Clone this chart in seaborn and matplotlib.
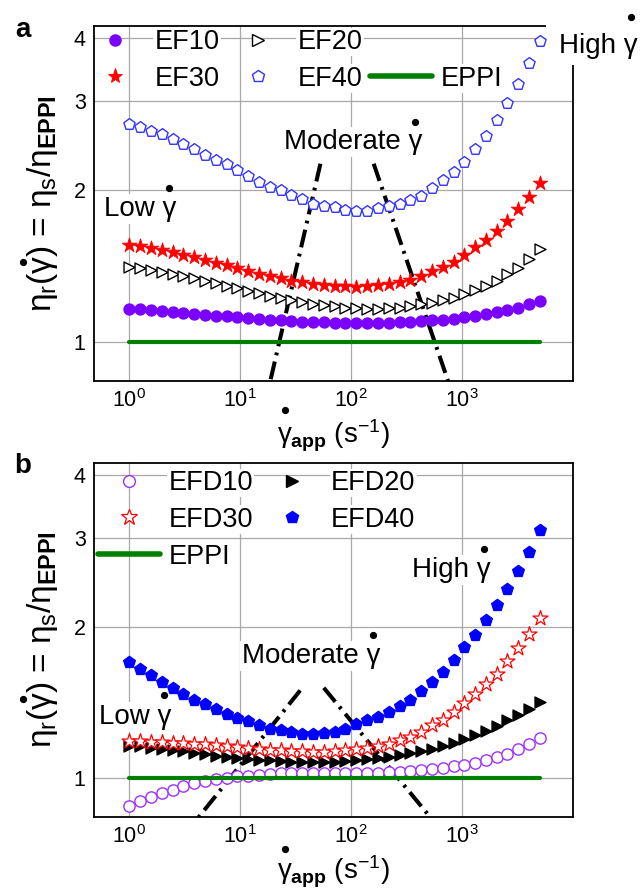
import numpy as np
import matplotlib
matplotlib.use("Agg")
import matplotlib.pyplot as plt
import seaborn as sns
from matplotlib.lines import Line2D
from matplotlib.patches import Rectangle
from matplotlib.ticker import (FixedLocator, NullFormatter, LogLocator,
                               LogFormatterSciNotation, FuncFormatter)

sns.set_theme(style="white")
plt.rcParams["font.family"] = ["Liberation Sans", "DejaVu Sans"]
plt.rcParams["mathtext.fontset"] = "custom"
plt.rcParams["mathtext.rm"] = "Liberation Sans"
plt.rcParams["mathtext.it"] = "Liberation Sans"
plt.rcParams["mathtext.bf"] = "Liberation Sans:bold"
for key in ("text.color", "axes.labelcolor", "xtick.color", "ytick.color",
            "axes.edgecolor"):
    plt.rcParams[key] = "black"

# apparent shear rate (1/s)
shear_rate = [1.00, 1.25, 1.57, 1.96, 2.45, 3.07, 3.84, 4.81, 6.02, 7.53,
              9.42, 11.8, 14.8, 18.5, 23.1, 28.9, 36.2, 45.3, 56.7, 70.9,
              88.8, 111, 139, 174, 218, 273, 341, 427, 534, 668,
              837, 1047, 1310, 1639, 2052, 2567, 3213, 4021, 5012]

# relative viscosity, panel a
ef10 = [1.165, 1.161, 1.158, 1.152, 1.149, 1.144, 1.138, 1.133, 1.128, 1.125,
        1.119, 1.116, 1.111, 1.108, 1.104, 1.101, 1.098, 1.096, 1.094, 1.093,
        1.091, 1.091, 1.091, 1.091, 1.093, 1.094, 1.098, 1.101, 1.104, 1.108,
        1.113, 1.119, 1.128, 1.137, 1.147, 1.158, 1.170, 1.188, 1.206]
ef20 = [1.409, 1.399, 1.388, 1.378, 1.363, 1.351, 1.339, 1.322, 1.308, 1.292,
        1.278, 1.263, 1.248, 1.235, 1.221, 1.210, 1.199, 1.192, 1.183, 1.177,
        1.170, 1.167, 1.165, 1.165, 1.167, 1.170, 1.177, 1.188, 1.197, 1.210,
        1.225, 1.244, 1.267, 1.292, 1.322, 1.363, 1.405, 1.460, 1.528]
ef30 = [1.559, 1.547, 1.535, 1.524, 1.505, 1.487, 1.471, 1.455, 1.436, 1.420,
        1.403, 1.384, 1.367, 1.353, 1.340, 1.324, 1.316, 1.306, 1.298, 1.292,
        1.290, 1.288, 1.290, 1.296, 1.302, 1.316, 1.330, 1.353, 1.384, 1.409,
        1.442, 1.487, 1.540, 1.595, 1.662, 1.740, 1.836, 1.936, 2.064]
ef40 = [2.71, 2.67, 2.62, 2.58, 2.52, 2.47, 2.41, 2.35, 2.30, 2.25,
        2.19, 2.13, 2.08, 2.03, 2.00, 1.96, 1.92, 1.88, 1.86, 1.85,
        1.83, 1.82, 1.82, 1.84, 1.86, 1.88, 1.91, 1.95, 2.02, 2.09,
        2.17, 2.27, 2.41, 2.56, 2.75, 2.97, 3.24, 3.57, 3.95]

# relative viscosity, panel b
efd10 = [0.880, 0.899, 0.917, 0.935, 0.949, 0.964, 0.976, 0.986, 0.995, 1.002,
         1.008, 1.012, 1.015, 1.019, 1.022, 1.023, 1.025, 1.025, 1.025, 1.026,
         1.026, 1.026, 1.026, 1.026, 1.028, 1.029, 1.033, 1.037, 1.042, 1.047,
         1.055, 1.063, 1.073, 1.084, 1.101, 1.118, 1.140, 1.170, 1.201]
efd20 = [1.161, 1.156, 1.149, 1.144, 1.137, 1.130, 1.123, 1.116, 1.109, 1.103,
         1.098, 1.093, 1.087, 1.084, 1.081, 1.079, 1.078, 1.076, 1.076, 1.078,
         1.081, 1.084, 1.089, 1.096, 1.103, 1.111, 1.121, 1.131, 1.144, 1.156,
         1.174, 1.194, 1.216, 1.242, 1.269, 1.302, 1.336, 1.374, 1.416]
efd30 = [1.185, 1.183, 1.181, 1.179, 1.177, 1.174, 1.170, 1.167, 1.163, 1.160,
         1.154, 1.149, 1.144, 1.138, 1.135, 1.131, 1.130, 1.128, 1.128, 1.130,
         1.135, 1.140, 1.147, 1.158, 1.170, 1.188, 1.206, 1.235, 1.273, 1.306,
         1.353, 1.409, 1.471, 1.535, 1.612, 1.709, 1.813, 1.936, 2.080]
efd40 = [1.701, 1.650, 1.600, 1.552, 1.510, 1.471, 1.433, 1.401, 1.369, 1.342,
         1.318, 1.296, 1.273, 1.254, 1.244, 1.233, 1.225, 1.225, 1.229, 1.235,
         1.252, 1.282, 1.302, 1.322, 1.353, 1.390, 1.433, 1.487, 1.552, 1.624,
         1.714, 1.822, 1.921, 2.058, 2.204, 2.379, 2.576, 2.814, 3.108]

# neat matrix reference (normalised to itself)
eppi = [1.0] * len(shear_rate)

# regime guide lines: (rate, ratio) end points
guide_a_left_x, guide_a_left_y = [52.8, 18.4], [2.256, 0.826]
guide_a_right_x, guide_a_right_y = [159.5, 763.0], [2.256, 0.826]
guide_b_left_x, guide_b_left_y = [34.7, 4.03], [1.494, 0.826]
guide_b_right_x, guide_b_right_y = [56.6, 541.0], [1.512, 0.826]

x_major = [1, 10, 100, 1000]
y_major = [1, 2, 3, 4]
y_minor = [0.9] + [round(v, 1) for v in np.arange(1.1, 4.25, 0.1)
                   if abs(v - round(v)) > 1e-6]

PURPLE = "#7a00ff"
PURPLE_OPEN = "#a030ff"
RED = "#ff0000"
BLUE_OPEN = "#3333ff"
BLUE = "#0000ff"
GREEN = "#008000"

W, H = 644, 891
fig = plt.figure(figsize=(W / 100, H / 100), dpi=100)


def axes_px(left, top, right, bottom):
    return fig.add_axes([left / W, 1 - bottom / H, (right - left) / W,
                         (bottom - top) / H])


ax_a = axes_px(94, 26, 573, 381)
ax_b = axes_px(94, 463, 573, 817)


def style_axes(ax):
    ax.set_xscale("log")
    ax.set_yscale("log")
    ax.set_xlim(0.48, 1.0e4)
    ax.set_ylim(0.837, 4.23)
    ax.xaxis.set_major_locator(FixedLocator(x_major))
    ax.xaxis.set_major_formatter(LogFormatterSciNotation())
    ax.xaxis.set_minor_locator(LogLocator(base=10, subs=np.arange(2, 10), numticks=20))
    ax.xaxis.set_minor_formatter(NullFormatter())
    ax.yaxis.set_major_locator(FixedLocator(y_major))
    ax.yaxis.set_major_formatter(FuncFormatter(lambda v, p: f"{v:g}"))
    ax.yaxis.set_minor_locator(FixedLocator(y_minor))
    ax.yaxis.set_minor_formatter(NullFormatter())
    ax.tick_params(which="both", direction="in", top=False, right=False,
                   color="black", labelsize=15.5, labelcolor="black")
    ax.tick_params(which="major", length=5, width=1.0, pad=6)
    ax.tick_params(which="minor", length=3, width=0.9)
    ax.grid(True, which="major", color="#a8a8a8", lw=0.9)
    ax.grid(False, which="minor")
    ax.set_axisbelow(True)
    for sp in ax.spines.values():
        sp.set_color("black")
        sp.set_linewidth(1.3)


def scatter(ax, y, marker, face, edge, size, lw=1.0):
    sns.scatterplot(x=shear_rate, y=y, ax=ax, marker=marker, s=size,
                    color=face, edgecolor=edge, linewidth=lw, zorder=3,
                    legend=False)


def guide(ax, xs, ys):
    ax.plot(xs, ys, color="black", lw=2.9, dashes=(4.5, 1.6, 0.7, 1.6),
            dash_capstyle="butt", zorder=2.2)


for ax in (ax_a, ax_b):
    style_axes(ax)

# panel a
scatter(ax_a, ef10, "o", PURPLE, PURPLE, 62)
scatter(ax_a, ef20, ">", "white", "black", 62)
scatter(ax_a, ef30, "*", RED, RED, 120, 0.6)
scatter(ax_a, ef40, "p", "white", BLUE_OPEN, 72)
sns.lineplot(x=shear_rate, y=eppi, ax=ax_a, color=GREEN, lw=3, zorder=4, legend=False)
guide(ax_a, guide_a_left_x, guide_a_left_y)
guide(ax_a, guide_a_right_x, guide_a_right_y)

# panel b
scatter(ax_b, efd10, "o", "white", PURPLE_OPEN, 66)
scatter(ax_b, efd20, ">", "black", "black", 62)
scatter(ax_b, efd30, "*", "white", RED, 128, 0.9)
scatter(ax_b, efd40, "p", BLUE, BLUE, 78)
sns.lineplot(x=shear_rate, y=eppi, ax=ax_b, color=GREEN, lw=3, zorder=4, legend=False)
guide(ax_b, guide_b_left_x, guide_b_left_y)
guide(ax_b, guide_b_right_x, guide_b_right_y)


def handle(marker, face, edge, ms, mew=1.0):
    return Line2D([], [], ls="none", marker=marker, ms=ms, mfc=face, mec=edge, mew=mew)


blank = Line2D([], [], ls="none")
eppi_h = Line2D([], [], color=GREEN, lw=4)

leg_kw = dict(frameon=False, fontsize=19.5, loc="upper left",
              bbox_transform=fig.transFigure, borderaxespad=0, borderpad=0,
              handlelength=2.3, handletextpad=0.3, columnspacing=0.28,
              labelspacing=0.4)

leg_a = ax_a.legend(
    [handle("o", PURPLE, PURPLE, 8), handle("*", RED, RED, 11, 0.6),
     handle(">", "white", "black", 8), handle("p", "white", BLUE_OPEN, 9),
     blank, eppi_h],
    ["EF10", "EF30", "EF20", "EF40", "", "EPPI"], ncol=3,
    bbox_to_anchor=(84 / W, 1 - 29 / H), **leg_kw)
leg_b = ax_b.legend(
    [handle("o", "white", PURPLE_OPEN, 8.5), handle("*", "white", RED, 12, 0.9),
     eppi_h, handle(">", "black", "black", 8), handle("p", BLUE, BLUE, 9)],
    ["EFD10", "EFD30", "EPPI", "EFD20", "EFD40"], ncol=2,
    bbox_to_anchor=(98 / W, 1 - 470 / H), **leg_kw)
for leg in (leg_a, leg_b):
    for t in leg.get_texts():
        t.set_bbox(dict(facecolor="white", edgecolor="none", pad=1))

# white patch behind the top-right note of panel a
ax_a.add_patch(Rectangle((546 / W, 1 - 65 / H), (W - 546) / W, 65 / H,
                         transform=fig.transFigure, facecolor="white",
                         edgecolor="none", zorder=2.8, clip_on=False))

NOTE_SIZE = 20
notes = []


def note(ax, prefix, x_px, base_px, dot_px, zorder=1.5):
    t = ax.text(x_px / W, 1 - base_px / H, prefix + "γ", transform=fig.transFigure,
                fontsize=NOTE_SIZE, ha="left", va="baseline", zorder=zorder,
                clip_on=False,
                bbox=dict(facecolor="white", edgecolor="none", pad=1.5))
    notes.append((t, dot_px))


note(ax_a, "Low ", 104, 216, 188)
note(ax_a, "Moderate ", 284, 149, 122)
note(ax_a, "High ", 559, 53, 17, zorder=3)
note(ax_b, "Low ", 99, 724, 695)
note(ax_b, "Moderate ", 242, 663, 635)
note(ax_b, "High ", 412, 577, 549)

xlab = r"$\gamma_{\mathbf{app}}$ (s$^{-1}$)"
ylab = r"$\eta_r(\gamma)$ = $\eta_s$/$\eta_{\mathbf{EPPI}}$"
XLABEL_SIZE = 20
YLABEL_SIZE = 24
for ax in (ax_a, ax_b):
    ax.set_xlabel(xlab, fontsize=XLABEL_SIZE, color="black")
    ax.set_ylabel(ylab, fontsize=YLABEL_SIZE, color="black")
    ax.xaxis.set_label_coords(0.5, -0.104)
    ax.yaxis.set_label_coords(-0.072, 0.5)

fig.text(23 / W, 1 - 30 / H, "a", fontsize=20, fontweight="bold", ha="center", va="center")
fig.text(23 / W, 1 - 466 / H, "b", fontsize=20, fontweight="bold", ha="center", va="center")

fig.canvas.draw()
renderer = fig.canvas.get_renderer()


def width_of(s, size):
    tmp = fig.text(0, 0, s, fontsize=size)
    w = tmp.get_window_extent(renderer).width
    tmp.remove()
    return w


def add_dot(x_disp, y_disp):
    fig.add_artist(Line2D([x_disp / W], [y_disp / H], transform=fig.transFigure,
                          ls="none", marker="o", ms=4.2, color="black", zorder=6))


g_note = width_of("γ", NOTE_SIZE)
for t, dot_px in notes:
    bb = t.get_window_extent(renderer)
    add_dot(bb.x1 - g_note / 2, H - dot_px)

g_x = width_of(r"$\gamma$", XLABEL_SIZE)
g_y = width_of(r"$\gamma$", YLABEL_SIZE)
pre_y = width_of(r"$\eta_r($", YLABEL_SIZE)
for ax, xdot_y in ((ax_a, 410), (ax_b, 849)):
    bb = ax.xaxis.label.get_window_extent(renderer)
    add_dot(bb.x0 + g_x / 2, H - xdot_y)
    bb = ax.yaxis.label.get_window_extent(renderer)
    add_dot(bb.x0 - 2, bb.y0 + pre_y + g_y / 2)

fig.savefig("out.png", dpi=100)
